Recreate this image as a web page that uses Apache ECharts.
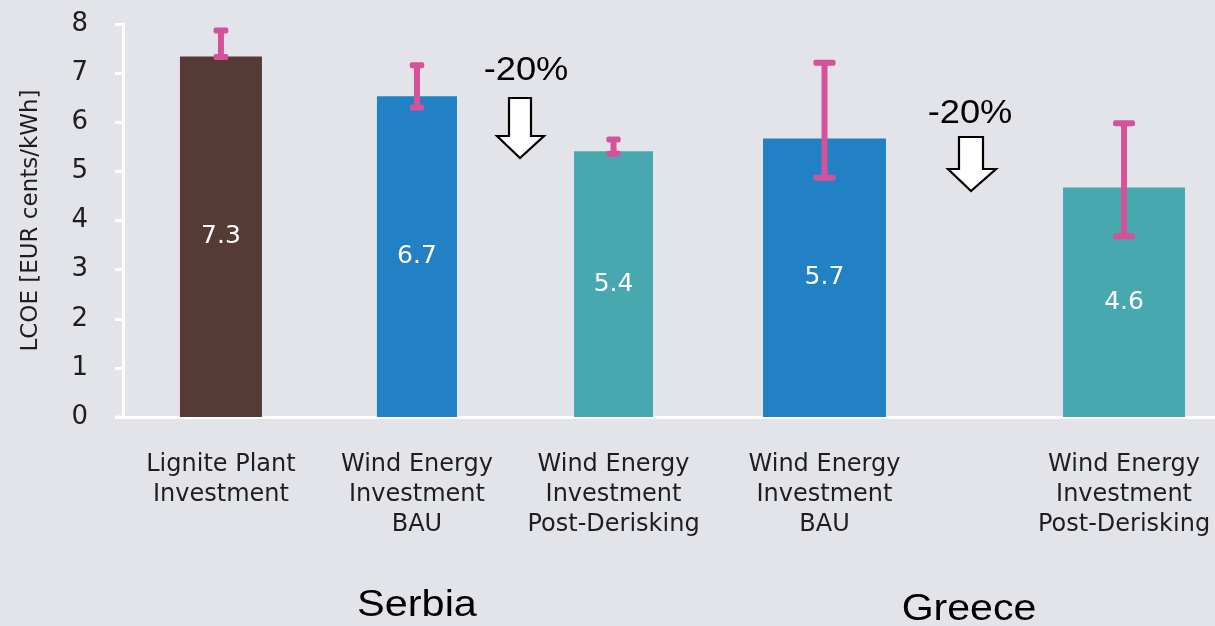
<!DOCTYPE html>
<html>
<head>
<meta charset="utf-8">
<script src="https://cdn.jsdelivr.net/npm/echarts@6/dist/echarts.min.js"></script>
<style>
  html, body { margin: 0; padding: 0; background: #e3e4ea; }
  #chart { width: 1215px; height: 626px; }
</style>
</head>
<body>
<div id="chart"></div>
<script>
// data
const categories = [
  'Lignite Plant\nInvestment',
  'Wind Energy\nInvestment\nBAU',
  'Wind Energy\nInvestment\nPost-Derisking',
  'Wind Energy\nInvestment\nBAU',
  'Wind Energy\nInvestment\nPost-Derisking'
];
const values = [7.34, 6.53, 5.41, 5.67, 4.67];
const errLow = [7.33, 6.30, 5.36, 4.87, 3.68];
const errHigh = [7.87, 7.16, 5.65, 7.21, 5.98];
const valueLabels = ['7.3', '6.7', '5.4', '5.7', '4.6'];
const yTicks = [0, 1, 2, 3, 4, 5, 6, 7, 8];

// layout (slots on a hidden 0..10 x scale)
const xPos = [0.897, 2.692, 4.492, 6.424, 9.167];
const barW = [0.751, 0.733, 0.723, 1.126, 1.117];
const barColors = ['#553a36', '#2280c4', '#48a8b0', '#2280c4', '#48a8b0'];
const errColor = '#d3529a';
const font = '"DejaVu Sans", sans-serif';
const arial = '"Liberation Sans", Arial, sans-serif';

const chart = echarts.init(document.getElementById('chart'), null, { renderer: 'canvas' });

function renderBar(params, api) {
  const i = params.dataIndex;
  const x = api.value(0), w = api.value(1), v = api.value(2);
  const tl = api.coord([x - w / 2, v]);
  const br = api.coord([x + w / 2, 0]);
  const mid = api.coord([x, v / 2]);
  const lo = api.coord([x, api.value(3)]);
  const hi = api.coord([x, api.value(4)]);
  const capW = (br[0] - tl[0]) * 0.18;
  const capH = 6;
  return {
    type: 'group',
    children: [
      { type: 'rect', shape: { x: tl[0], y: tl[1], width: br[0] - tl[0], height: br[1] - tl[1] },
        style: { fill: barColors[i] } },
      { type: 'text', x: mid[0], y: mid[1],
        style: { text: valueLabels[i], fill: '#ffffff', font: '25px ' + font,
                 textAlign: 'center', textVerticalAlign: 'middle' } },
      { type: 'line', shape: { x1: hi[0], y1: hi[1], x2: lo[0], y2: lo[1] },
        style: { stroke: errColor, lineWidth: 6 } },
      { type: 'rect', shape: { x: hi[0] - capW / 2, y: hi[1] - capH / 2, width: capW, height: capH, r: 2 },
        style: { fill: errColor } },
      { type: 'rect', shape: { x: lo[0] - capW / 2, y: lo[1] - capH / 2, width: capW, height: capH, r: 2 },
        style: { fill: errColor } }
    ]
  };
}

const option = {
  backgroundColor: '#e3e4ea',
  animation: false,
  grid: { left: 123, right: 0, top: 24, bottom: 209 },
  xAxis: {
    type: 'value',
    min: 0,
    max: 10,
    splitLine: { show: false },
    axisLine: { show: true, lineStyle: { color: '#ffffff', width: 3 } },
    axisTick: { show: false },
    axisLabel: {
      customValues: xPos,
      formatter: function (val) {
        const i = xPos.indexOf(val);
        return i >= 0 ? categories[i] : '';
      },
      margin: 33,
      color: '#1e1e1e',
      fontFamily: font,
      fontSize: 24,
      lineHeight: 30,
      align: 'center'
    }
  },
  yAxis: {
    type: 'value',
    min: 0,
    max: 8,
    interval: 1,
    name: 'LCOE [EUR cents/kWh]',
    nameLocation: 'middle',
    nameGap: 80,
    nameTextStyle: { color: '#1e1e1e', fontFamily: font, fontSize: 23 },
    splitLine: { show: false },
    axisLine: { show: true, lineStyle: { color: '#ffffff', width: 3 } },
    axisTick: { show: true, length: 8, lineStyle: { color: '#ffffff', width: 3 } },
    axisLabel: {
      margin: 35,
      color: '#1e1e1e',
      fontFamily: font,
      fontSize: 26,
      formatter: function (v) { return yTicks.indexOf(v) >= 0 ? String(v) : ''; }
    }
  },
  series: [{
    type: 'custom',
    renderItem: renderBar,
    data: values.map((v, i) => [xPos[i], barW[i], v, errLow[i], errHigh[i]]),
    encode: { x: 0, y: 2 }
  }],
  graphic: [
    // x-axis line reaches a little left of the y axis
    { type: 'line', shape: { x1: 116, y1: 417, x2: 124, y2: 417 },
      style: { stroke: '#ffffff', lineWidth: 3 } },
    { type: 'text', x: 526, y: 71, scaleX: 1.1,
      style: { text: '-20%', font: '33px ' + arial, fill: '#000',
               textAlign: 'center', textVerticalAlign: 'middle' } },
    { type: 'polygon',
      shape: { points: [[509, 98], [531, 98], [531, 136], [544, 136], [520, 158], [497, 136], [509, 136]] },
      style: { fill: '#ffffff', stroke: '#000000', lineWidth: 2.2 } },
    { type: 'text', x: 970, y: 114, scaleX: 1.1,
      style: { text: '-20%', font: '33px ' + arial, fill: '#000',
               textAlign: 'center', textVerticalAlign: 'middle' } },
    { type: 'polygon',
      shape: { points: [[959, 137], [983, 137], [983, 169], [996, 169], [971, 191], [948, 169], [959, 169]] },
      style: { fill: '#ffffff', stroke: '#000000', lineWidth: 2.2 } },
    { type: 'text', x: 417, y: 606, scaleX: 1.12,
      style: { text: 'Serbia', font: '37px ' + arial, fill: '#000',
               textAlign: 'center', textVerticalAlign: 'middle' } },
    { type: 'text', x: 969, y: 610, scaleX: 1.11,
      style: { text: 'Greece', font: '37px ' + arial, fill: '#000',
               textAlign: 'center', textVerticalAlign: 'middle' } }
  ]
};

chart.setOption(option);
</script>
</body>
</html>
